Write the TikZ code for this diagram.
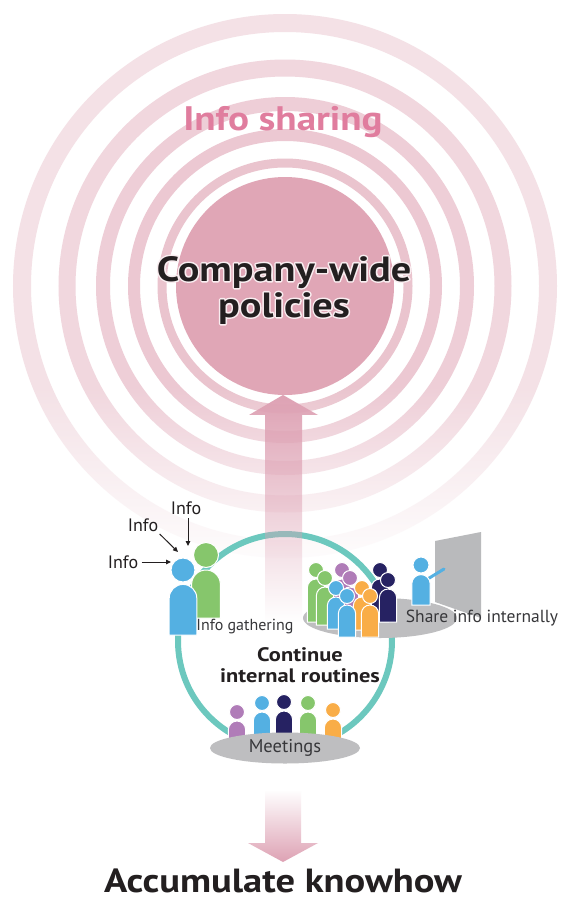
\documentclass[tikz,border=0pt]{standalone}
\usepackage{fontspec}
\setmainfont{PT Sans}
\newfontfamily\headfont[FakeStretch=1.15]{PT Sans Bold}
\usetikzlibrary{fadings,arrows.meta}

\definecolor{ringA}{RGB}{244,225,230}
\definecolor{ringB}{RGB}{241,215,222}
\definecolor{ringC}{RGB}{238,206,215}
\definecolor{ringD}{RGB}{236,200,210}
\definecolor{ringE}{RGB}{234,196,206}
\definecolor{core}{RGB}{224,166,182}
\definecolor{arrowpink}{RGB}{222,162,180}
\definecolor{sharepink}{RGB}{224,125,158}
\definecolor{loopteal}{RGB}{108,200,190}
\definecolor{pgreen}{RGB}{134,198,108}
\definecolor{pblue}{RGB}{84,176,226}
\definecolor{ppurple}{RGB}{176,124,184}
\definecolor{pnavy}{RGB}{38,34,98}
\definecolor{porange}{RGB}{249,173,71}
\definecolor{tablegray}{RGB}{190,190,192}
\definecolor{screengray}{RGB}{185,186,188}
\definecolor{ink}{RGB}{35,31,32}
\definecolor{softink}{RGB}{55,55,58}

% fadings: opaque top to clear bottom, and the reverse
\tikzfading[name=clearbelow, top color=transparent!0, middle color=transparent!25, bottom color=transparent!100]
\tikzfading[name=clearabove, top color=transparent!100, middle color=transparent!10, bottom color=transparent!0]
\tikzfading[name=whiteout, top color=transparent!100, bottom color=transparent!0]

% glyph outlines only (used for the light rim behind the title)
\newcommand\outlineonly[1]{\special{pdf:literal direct 1 Tr 3 w 1 j}#1\special{pdf:literal direct 0 Tr}}

% a person: head centre (x,y), head radius, body bottom, colour
\newcommand\guy[5]{%
  \pgfmathsetmacro\gw{1.15*#3}%
  \pgfmathsetmacro\gt{#2+1.2*#3}%
  \filldraw[fill=#5, draw=white, line width=1pt]
    (#1-\gw,#4) -- (#1-\gw,\gt+\gw) arc[start angle=180, end angle=360, radius=\gw] -- (#1+\gw,#4) -- cycle;
  \filldraw[fill=#5, draw=white, line width=1pt] (#1,#2) circle (#3);
}

\tikzset{
  bigtitle/.style={font=\headfont\fontsize{35}{36}\selectfont, text=ink, align=center},
  smalllabel/.style={font=\fontsize{16}{16}\selectfont, text=softink},
  infolabel/.style={font=\fontsize{18}{18}\selectfont, text=ink},
  infoarrow/.style={-{Triangle[length=5pt,width=4.5pt]}, line width=1pt, ink},
}

\begin{document}
\begin{tikzpicture}[x=1pt,y=-1pt]
\useasboundingbox (0,0) rectangle (560,900);
\fill[white] (0,0) rectangle (560,900);

% ripples of information sharing
\foreach \r/\w/\c in {263/18/ringA, 218/17/ringB, 182/14/ringC, 151/12/ringD, 123/9/ringE}
  \draw[\c, line width=\w pt] (285,286) circle (\r);
\fill[white, path fading=whiteout] (0,385) rectangle (560,575);

% core circle
\fill[core] (285,286) circle (109) coordinate (core);

\node[font=\headfont\fontsize{34}{34}\selectfont, text=sharepink] (sharing) at (283,122) {Info sharing};

\node[bigtitle, text=white!80!core] (rim) at (284,290) {\outlineonly{Company-wide}\\\outlineonly{policies}};
\node[bigtitle] (policies) at (284,290) {Company-wide\\policies};

% routine loop
\draw[loopteal, line width=6pt] (285,641) circle (107);

% upward arrow into the core
\fill[arrowpink, path fading=clearbelow]
  (265,622) -- (265,415) -- (249,415) -- (283,395) -- (318,415) -- (302,415) -- (302,622) -- cycle;

% info gathering
\guy{206}{555}{12.5}{618}{pgreen}
\guy{183}{570}{12}{635}{pblue}
\node[infolabel] (i1) at (123,562) {Info};
\node[infolabel] (i2) at (143,525) {Info};
\node[infolabel] (i3) at (186,508) {Info};
\coordinate (t1) at (171,562);
\coordinate (t2) at (178,552);
\coordinate (t3) at (188,546);
\draw[infoarrow] (i1.east) -- (t1);
\draw[infoarrow] (i2.south east) ++(-2,-1) -- (t2);
\draw[infoarrow] (i3.south) ++(2,0) -- (t3);
\node[smalllabel] (gather) at (245,627) {Info gathering};

% sharing info internally
\fill[tablegray] (380,618) ellipse (77 and 20);
\guy{316}{570}{7.5}{622}{pgreen}
\guy{342}{570}{7.5}{622}{ppurple}
\guy{380}{570}{7.5}{622}{pnavy}
\guy{325}{578}{7.5}{625}{pgreen}
\guy{350}{578}{7.5}{625}{ppurple}
\guy{388}{580}{7.5}{622}{pnavy}
\guy{336}{588}{7.5}{629}{pblue}
\guy{362}{588}{7.5}{630}{porange}
\guy{347}{596}{7.5}{637}{pblue}
\guy{370}{596}{7.5}{637}{porange}
\fill[screengray] (435,541) -- (481,532) -- (481,618) -- (435,602) -- cycle;
\draw[pblue, line width=3pt, line cap=round] (426,580) -- (444,569);
\guy{421}{565}{8}{605}{pblue}
\node[smalllabel, font=\fontsize{17.5}{17.5}\selectfont] (share) at (482,618) {Share info internally};

\node[font=\headfont\fontsize{19.5}{20.5}\selectfont, text=ink, align=center] (routine) at (300,665) {Continue\\internal routines};

% meetings
\guy{237}{712}{7.5}{745}{ppurple}
\guy{262}{703}{7.5}{745}{pblue}
\guy{284}{702}{7.5}{745}{pnavy}
\guy{308}{703}{7.5}{745}{pgreen}
\guy{333}{710}{7.5}{745}{porange}
\fill[tablegray] (285,748) ellipse (75 and 15.5);
\node[smalllabel, font=\fontsize{18.5}{18.5}\selectfont] (meet) at (285,748) {Meetings};

% downward arrow to the result
\fill[arrowpink, path fading=clearabove]
  (265,790) -- (265,843) -- (248,843) -- (283,862) -- (318,843) -- (301,843) -- (301,790) -- cycle;

\node[font=\headfont\fontsize{33.5}{34}\selectfont, text=ink, anchor=base, inner sep=0pt] (know) at (283,892) {Accumulate knowhow};
\end{tikzpicture}
\end{document}
